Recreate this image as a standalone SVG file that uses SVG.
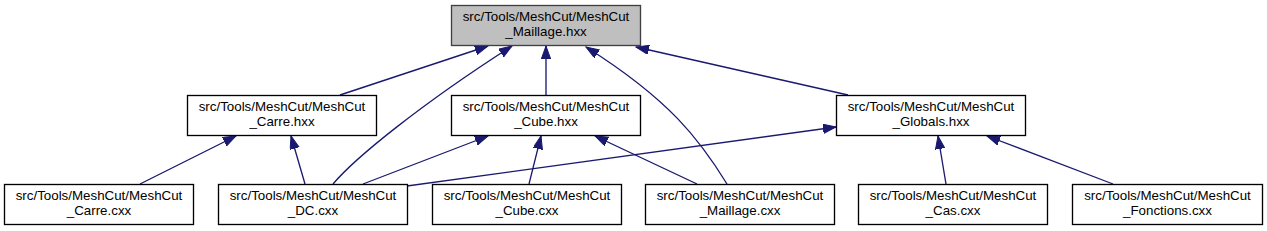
<svg xmlns="http://www.w3.org/2000/svg" width="1267" height="231" viewBox="0 0 1267 231">
<style>
.n rect{fill:#ffffff;stroke:#000000;stroke-width:1.33}
.n.root rect{fill:#bfbfbf;stroke:#404040}
.n text{font-family:"Liberation Sans",Arial,sans-serif;font-size:13.33px;text-anchor:middle;fill:#000000}
.e path{fill:none;stroke:#191970;stroke-width:1.33;marker-end:url(#ah)}
</style>
<defs>
<marker id="ah" markerUnits="userSpaceOnUse" markerWidth="14" markerHeight="10" refX="13" refY="4.7" orient="auto" viewBox="0 0 14 10">
<path d="M0,0 L13,4.7 L0,9.4 z" fill="#191970" stroke="#191970" stroke-width="1"/>
</marker>
</defs>
<rect width="1267" height="231" fill="#ffffff"/>
<g id="edges" class="e">
<path d="M340,95 L488,46"/>
<path d="M333,184 C355,158 420,105 512,46"/>
<path d="M546,95 L546,46"/>
<path d="M727,184 C700,140 670,100 586,47"/>
<path d="M848,95 L636,47"/>
<path d="M140,184 L236,136"/>
<path d="M305,184 L291,136"/>
<path d="M363,184 L488,136"/>
<path d="M529,184 L541,136"/>
<path d="M697,184 L595,136"/>
<path d="M407,186 L836,127"/>
<path d="M946,184 L938,136"/>
<path d="M1113,184 L987,136"/>
</g>
<g id="node_maillage_hxx" class="n root">
<rect x="451.5" y="5.5" width="189" height="40"/>
<text x="546" y="21">src/Tools/MeshCut/MeshCut</text>
<text x="546" y="36">_Maillage.hxx</text>
</g>
<g id="node_carre_hxx" class="n">
<rect x="187.5" y="95.5" width="189" height="40"/>
<text x="282" y="111">src/Tools/MeshCut/MeshCut</text>
<text x="282" y="126">_Carre.hxx</text>
</g>
<g id="node_cube_hxx" class="n">
<rect x="451.5" y="95.5" width="189" height="40"/>
<text x="546" y="111">src/Tools/MeshCut/MeshCut</text>
<text x="546" y="126">_Cube.hxx</text>
</g>
<g id="node_globals_hxx" class="n">
<rect x="836.5" y="95.5" width="189" height="40"/>
<text x="931" y="111">src/Tools/MeshCut/MeshCut</text>
<text x="931" y="126">_Globals.hxx</text>
</g>
<g id="node_carre_cxx" class="n">
<rect x="4.5" y="184.5" width="189" height="40"/>
<text x="99" y="200">src/Tools/MeshCut/MeshCut</text>
<text x="99" y="215">_Carre.cxx</text>
</g>
<g id="node_dc_cxx" class="n">
<rect x="218.5" y="184.5" width="189" height="40"/>
<text x="313" y="200">src/Tools/MeshCut/MeshCut</text>
<text x="313" y="215">_DC.cxx</text>
</g>
<g id="node_cube_cxx" class="n">
<rect x="432.5" y="184.5" width="189" height="40"/>
<text x="527" y="200">src/Tools/MeshCut/MeshCut</text>
<text x="527" y="215">_Cube.cxx</text>
</g>
<g id="node_maillage_cxx" class="n">
<rect x="645.5" y="184.5" width="189" height="40"/>
<text x="740" y="200">src/Tools/MeshCut/MeshCut</text>
<text x="740" y="215">_Maillage.cxx</text>
</g>
<g id="node_cas_cxx" class="n">
<rect x="858.5" y="184.5" width="189" height="40"/>
<text x="953" y="200">src/Tools/MeshCut/MeshCut</text>
<text x="953" y="215">_Cas.cxx</text>
</g>
<g id="node_fonctions_cxx" class="n">
<rect x="1072.5" y="184.5" width="190" height="40"/>
<text x="1167.5" y="200">src/Tools/MeshCut/MeshCut</text>
<text x="1167.5" y="215">_Fonctions.cxx</text>
</g>
</svg>
